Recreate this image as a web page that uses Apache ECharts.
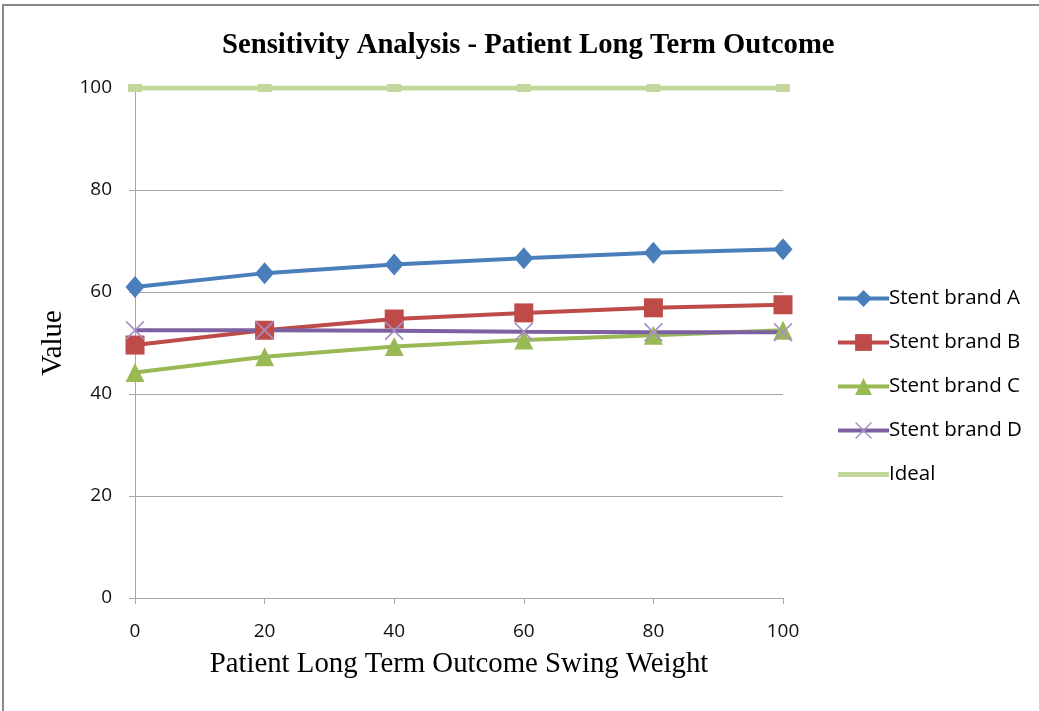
<!DOCTYPE html>
<html>
<head>
<meta charset="utf-8">
<script src="https://cdn.jsdelivr.net/npm/echarts@6/dist/echarts.min.js"></script>
<style>
  html, body { margin: 0; padding: 0; background: #fff; }
  #chart { width: 1039px; height: 711px; }
</style>
</head>
<body>
<div id="chart"></div>
<script>
// Swing weight steps on the x axis
const weights = [0, 20, 40, 60, 80, 100];
// Overall value of each option at each swing weight
const brandA = [61.0, 63.7, 65.4, 66.6, 67.7, 68.4];
const brandB = [49.6, 52.5, 54.7, 55.9, 56.9, 57.5];
const brandC = [44.2, 47.3, 49.3, 50.6, 51.5, 52.5];
const brandD = [52.5, 52.5, 52.4, 52.2, 52.1, 52.1];
const ideal  = [100, 100, 100, 100, 100, 100];
const yTicks = [0, 20, 40, 60, 80, 100];

const pairs = vals => weights.map((w, i) => [w, vals[i]]);
const crossPath = 'path://M0,1.2L1.2,0L10,8.8L18.8,0L20,1.2L11.2,10L20,18.8L18.8,20L10,11.2L1.2,20L0,18.8L8.8,10Z';

function lineSeries(name, vals, color, symbol, size, extra) {
  return Object.assign({
    name: name,
    type: 'line',
    data: pairs(vals),
    symbol: symbol,
    symbolSize: size,
    showAllSymbol: true,
    lineStyle: { color: color, width: 4 },
    itemStyle: { color: color },
    emphasis: { disabled: true },
    z: 3
  }, extra || {});
}

const chart = echarts.init(document.getElementById('chart'), null, { renderer: 'canvas' });
chart.setOption({
  animation: false,
  backgroundColor: '#fff',
  title: {
    text: 'Sensitivity Analysis - Patient Long Term Outcome',
    left: 217,
    top: 26,
    textStyle: { fontFamily: 'Liberation Serif', fontWeight: 'bold', fontSize: 28.7, color: '#000' }
  },
  graphic: [
    { type: 'polyline', shape: { points: [[3, 711], [3, 5], [1039, 5]] },
      style: { stroke: '#888', lineWidth: 2, fill: null }, silent: true }
  ],
  grid: { left: 135, right: 256, top: 88, bottom: 113 },
  legend: {
    orient: 'vertical',
    left: 831,
    top: 283,
    itemWidth: 51,
    itemHeight: 21,
    itemGap: 23,
    lineStyle: { width: 4 },
    textStyle: { fontFamily: 'Open Sans', fontSize: 20.5, color: '#000', padding: [0, 0, 0, -5] },
    data: ['Stent brand A', 'Stent brand B', 'Stent brand C', 'Stent brand D',
           { name: 'Ideal', icon: 'path://M0,0H51V5H0Z' }]
  },
  xAxis: {
    type: 'value',
    min: 0, max: 100, interval: 20,
    name: 'Patient Long Term Outcome Swing Weight',
    nameLocation: 'middle',
    nameGap: 52,
    nameTextStyle: { fontFamily: 'Liberation Serif', fontSize: 28.8, color: '#000' },
    axisLine: { show: true, lineStyle: { color: '#a6a6a6', width: 1 } },
    axisTick: { show: true, length: 6, lineStyle: { color: '#a6a6a6' } },
    axisLabel: { margin: 24, fontFamily: 'Open Sans', fontSize: 19, color: '#111' },
    splitLine: { show: false }
  },
  yAxis: {
    type: 'value',
    min: 0, max: 100, interval: 20,
    name: 'Value',
    nameLocation: 'middle',
    nameGap: 67,
    nameTextStyle: { fontFamily: 'Liberation Serif', fontSize: 28.8, color: '#000' },
    axisLine: { show: true, lineStyle: { color: '#a6a6a6', width: 1 } },
    axisTick: { show: true, length: 6, lineStyle: { color: '#a6a6a6' } },
    axisLabel: { margin: 23, fontFamily: 'Open Sans', fontSize: 19, color: '#111',
                 formatter: v => yTicks.includes(v) ? String(v) : '' },
    splitLine: { show: true, lineStyle: { color: '#a6a6a6', width: 1 } }
  },
  series: [
    lineSeries('Stent brand A', brandA, '#4a7ebb', 'diamond', [19, 22]),
    lineSeries('Stent brand B', brandB, '#be4b48', 'rect', 19),
    lineSeries('Stent brand C', brandC, '#98b954', 'triangle', 19),
    lineSeries('Stent brand D', brandD, '#7d60a0', crossPath, 19,
               { itemStyle: { color: '#a58ec4' }, lineStyle: { color: '#7d60a0', width: 4 } }),
    lineSeries('Ideal', ideal, '#c3d69b', 'rect', [14, 8],
               { lineStyle: { color: '#c3d69b', width: 5 }, z: 2 })
  ]
});
</script>
</body>
</html>
